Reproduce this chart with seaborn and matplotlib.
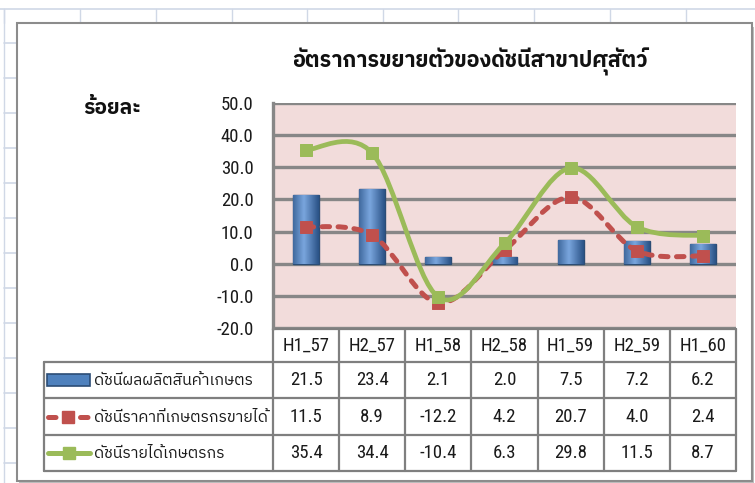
import numpy as np
import pandas as pd
import matplotlib
matplotlib.use("Agg")
import matplotlib.pyplot as plt
import matplotlib.transforms as mtransforms
from matplotlib.path import Path
from matplotlib.patches import PathPatch, Rectangle
from matplotlib.lines import Line2D
from matplotlib import font_manager
from matplotlib.font_manager import FontProperties
import seaborn as sns

# ข้อมูล
periods = ["H1_57", "H2_57", "H1_58", "H2_58", "H1_59", "H2_59", "H1_60"]
production = [21.5, 23.4, 2.1, 2.0, 7.5, 7.2, 6.2]
price = [11.5, 8.9, -12.2, 4.2, 20.7, 4.0, 2.4]
income = [35.4, 34.4, -10.4, 6.3, 29.8, 11.5, 8.7]
series_names = ["ดัชนีผลผลิตสินค้าเกษตร", "ดัชนีราคาที่เกษตรกรขายได้", "ดัชนีรายได้เกษตรกร"]
yticks = [-20, -10, 0, 10, 20, 30, 40, 50]
title = "อัตราการขยายตัวของดัชนีสาขาปศุสัตว์"
ylabel = "ร้อยละ"

BLUE, BLUE_DARK = "#4F81BD", "#2C4D75"
RED, GREEN = "#C0504D", "#9BBB59"
GRID = "#878787"


def find_thai_font():
    # font z glifami tajskimi
    try:
        from fontTools.ttLib import TTFont
    except Exception:
        return None
    found = []
    for f in font_manager.fontManager.ttflist:
        try:
            tt = TTFont(f.fname, fontNumber=0, lazy=True)
            cmap = tt.getBestCmap()
            if cmap and 0x0E01 in cmap:
                found.append(f.name)
        except Exception:
            pass
    if not found:
        return None
    pref = [n for n in found if "Thai" in n]
    return (pref or found)[0]


def find_narrow_font():
    # wąski font do liczb (jak Calibri w Excelu)
    regular = []
    for f in font_manager.fontManager.ttflist:
        nm = f.name.lower()
        fn = f.fname.lower()
        if f.style != "normal" or f.weight not in (400, "normal", "regular"):
            continue
        if "narrow" in nm or "condensed" in nm or "condensed" in fn or f.stretch == "condensed":
            if "mono" in nm or "serif" in nm and "sans" not in nm:
                continue
            regular.append(f)
    for key in ["liberation sans narrow", "roboto condensed", "open sans condensed", "dejavu sans"]:
        for f in regular:
            if f.name.lower().startswith(key):
                return f.fname
    return regular[0].fname if regular else None


sns.set_theme(style="white")
thai = find_thai_font()
narrow_file = find_narrow_font()
thai_fam = [f for f in [thai, "DejaVu Sans"] if f]
plt.rcParams["font.family"] = ["DejaVu Sans"]


def num_font(size):
    if narrow_file:
        return FontProperties(fname=narrow_file, size=size)
    return FontProperties(family="DejaVu Sans", size=size - 1)


W, H = 755, 483
fig = plt.figure(figsize=(W / 100, H / 100), dpi=100)
fig.patch.set_facecolor("white")


def fx(px):
    return px / W


def fy(py):
    return 1 - py / H


# siatka arkusza w tle
SHEET = "#D0D8E6"
for x in [4, 80, 156, 232, 307, 383, 458, 534, 610, 686]:
    fig.add_artist(Line2D([fx(x), fx(x)], [fy(9), fy(23)], color=SHEET, lw=1, zorder=0))
fig.add_artist(Line2D([0, 1], [fy(9), fy(9)], color=SHEET, lw=1.2, zorder=0))
fig.add_artist(Line2D([fx(4), fx(4)], [fy(9), 0], color=SHEET, lw=1, zorder=0))
for y in range(43, 483, 35):
    fig.add_artist(Line2D([fx(4), fx(17)], [fy(y), fy(y)], color=SHEET, lw=1.2, zorder=0))

# ramka wykresu
fig.add_artist(Rectangle((fx(19), fy(483)), fx(735), (481 - 25) / H, transform=fig.transFigure,
                         facecolor="#BFBFBF", edgecolor="none", zorder=0.5))
fig.add_artist(Rectangle((fx(17), fy(481)), fx(735), (481 - 23) / H, transform=fig.transFigure,
                         facecolor="white", edgecolor="#8C8C8C", lw=1.5, zorder=0.6))

ax = fig.add_axes([fx(273), fy(328), fx(463), 225 / H])
ax.set_zorder(2)
ax.set_facecolor("#F2DCDB")

df = pd.DataFrame({"period": periods, "value": production})
sns.barplot(data=df, x="period", y="value", color=BLUE, width=0.39, saturation=1,
            edgecolor=BLUE_DARK, linewidth=1.0, ax=ax, zorder=3)

# cieniowanie słupków (efekt 3D)
grad = np.linspace(0, 1, 64)
light = np.array(matplotlib.colors.to_rgb("#7AA6DE"))
dark = np.array(matplotlib.colors.to_rgb("#2A5286"))
shade_img = np.zeros((1, 64, 3))
for i, g in enumerate(grad):
    d = min(abs(g - 0.42) / 0.58, 1)
    shade_img[0, i] = light * (1 - d) + dark * d
for p in ax.patches:
    x0, y0 = p.get_x(), p.get_y()
    w, h = p.get_width(), p.get_height()
    im = ax.imshow(shade_img, extent=(x0, x0 + w, y0, y0 + h), aspect="auto",
                   interpolation="bicubic", zorder=3.1)
    im.set_clip_path(p)

ax.set_xlim(-0.5, 6.5)
ax.set_ylim(-20, 50)
ax.set_yticks(yticks)
ax.set_yticklabels([f"{v:.1f}" for v in yticks], color="#1A1A1A")
for lab in ax.get_yticklabels():
    lab.set_fontproperties(num_font(13.5))
ax.tick_params(axis="y", length=0, pad=14)
ax.set_xticks([])
ax.set_xlabel("")
ax.set_ylabel("")
for v in yticks:
    ax.axhline(v, color=GRID, lw=2.4, zorder=1)
for s in ["top", "right", "bottom"]:
    ax.spines[s].set_visible(False)
ax.spines["left"].set_color(GRID)
ax.spines["left"].set_linewidth(2.4)


def smooth_path(xs, ys):
    # krzywe Béziera jak "smoothed line" w Excelu
    pts = np.column_stack([xs, ys]).astype(float)
    n = len(pts)
    verts, codes = [pts[0]], [Path.MOVETO]
    for i in range(n - 1):
        p0 = pts[i - 1] if i > 0 else pts[i]
        p1, p2 = pts[i], pts[i + 1]
        p3 = pts[i + 2] if i + 2 < n else pts[i + 1]
        verts += [p1 + (p2 - p0) / 6, p2 - (p3 - p1) / 6, p2]
        codes += [Path.CURVE4] * 3
    return Path(verts, codes)


RED_DASH = (0, (1.5, 1.7))
xpos = np.arange(len(periods))
ax.add_patch(PathPatch(smooth_path(xpos, price), fill=False, edgecolor=RED, lw=3.6,
                       linestyle=RED_DASH, capstyle="round", zorder=4))
ax.add_patch(PathPatch(smooth_path(xpos, income), fill=False, edgecolor=GREEN, lw=3.4,
                       capstyle="round", zorder=5))
sns.scatterplot(x=xpos, y=price, marker="s", s=70, color=RED, edgecolor=RED, ax=ax, zorder=4.5)
sns.scatterplot(x=xpos, y=income, marker="s", s=80, color=GREEN, edgecolor=GREEN, ax=ax, zorder=5.5)

# tytuł i jednostka
fig.text(fx(470), fy(62), title, ha="center", va="center", fontsize=15.5, fontweight="bold",
         family=thai_fam, color="#111111")
t = fig.text(fx(112), fy(108), ylabel, ha="center", va="center", fontsize=15, fontweight="bold",
             family=thai_fam, color="#111111")

# tabela danych
bt = mtransforms.blended_transform_factory(ax.transData, fig.transFigure)
LC = "#7F7F7F"
hdr_top, hdr_bot = 329, 362
rows = [362, 398, 435, 471]
left = 44
edges = np.arange(len(periods) + 1) - 0.5

for e in edges:
    fig.add_artist(Line2D([e, e], [fy(hdr_top), fy(rows[-1])], transform=bt, color=LC, lw=1.6))
fig.add_artist(Line2D([-0.5, 6.5], [fy(hdr_top), fy(hdr_top)], transform=bt, color=LC, lw=1.6))
for r in rows:
    fig.add_artist(Line2D([fx(left), fx(736)], [fy(r), fy(r)], color=LC, lw=1.6))
fig.add_artist(Line2D([fx(left), fx(left)], [fy(rows[0]), fy(rows[-1])], color=LC, lw=1.6))

for i, p in enumerate(periods):
    fig.text(i, fy((hdr_top + hdr_bot) / 2), p, transform=bt, ha="center", va="center",
             fontproperties=num_font(13.5), color="#1A1A1A")

table_vals = [production, price, income]
for r, vals in enumerate(table_vals):
    yc = fy((rows[r] + rows[r + 1]) / 2)
    for i, v in enumerate(vals):
        fig.text(i, yc, f"{v:.1f}", transform=bt, ha="center", va="center",
                 fontproperties=num_font(13.5), color="#1A1A1A")
    fig.text(fx(94), yc, series_names[r], ha="left", va="center", fontsize=11.3,
             family=thai_fam, color="#1A1A1A")

# klucze legendy
yc = fy((rows[0] + rows[1]) / 2)
fig.add_artist(Rectangle((fx(47), yc - 6 / H), fx(43), 12 / H, transform=fig.transFigure,
                         facecolor=BLUE, edgecolor=BLUE_DARK, lw=1.2))
yc = fy((rows[1] + rows[2]) / 2)
fig.add_artist(Line2D([fx(48), fx(88)], [yc, yc], color=RED, lw=3.6, linestyle=RED_DASH,
                      dash_capstyle="round"))
fig.add_artist(Line2D([fx(68)], [yc], color=RED, marker="s", ms=9, lw=0))
yc = fy((rows[2] + rows[3]) / 2)
fig.add_artist(Line2D([fx(48), fx(90)], [yc, yc], color=GREEN, lw=3.6))
fig.add_artist(Line2D([fx(69)], [yc], color=GREEN, marker="s", ms=9, lw=0))

fig.savefig("out.png", dpi=100)
